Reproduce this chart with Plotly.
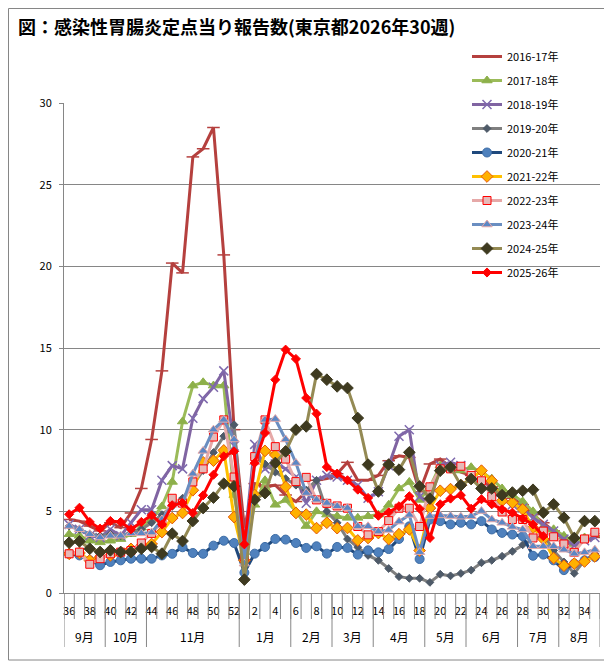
import plotly.graph_objects as go

# x categories (epi weeks, Sept -> Aug) and month groups under them
weeks = ['36', '37', '38', '39', '40', '41', '42', '43', '44', '45', '46', '47', '48', '49',
         '50', '51', '52', '1', '2', '3', '4', '5', '6', '7', '8', '9', '10', '11', '12',
         '13', '14', '15', '16', '17', '18', '19', '20', '21', '22', '23', '24', '25', '26',
         '27', '28', '29', '30', '31', '32', '33', '34', '35']
months = ['9月', '10月', '11月', '1月', '2月', '3月', '4月', '5月', '6月', '7月', '8月']
month_weeks = [4, 4, 9, 5, 4, 4, 5, 4, 5, 4, 4]

s2016_17 = [4.5, 4.4, 4.1, 3.8, 4.3, 4.0, 4.9, 6.4, 9.4, 13.6, 20.2, 19.6, 26.7, 27.2, 28.5, 20.7, 10.0,
            4.0, 6.7, 6.5, 6.6, 6.0, 5.6, 6.2, 6.9, 7.0, 7.3, 8.0, 6.9, 6.9, 7.2, 8.1, 8.4, 8.3, 6.2,
            7.9, 8.2, 7.7, 7.4, 7.2, 6.8, 6.5, 6.2, 5.8, 5.4, 4.8, 4.3, 3.8, 3.3, 3.0, 3.2, 3.4]
s2017_18 = [3.6, 3.5, 3.2, 3.1, 3.2, 3.3, 3.6, 4.0, 4.5, 5.3, 6.8, 10.5, 12.7, 12.9, 12.7, 12.7, 6.0,
            2.5, 5.4, 6.9, 5.4, 5.7, 5.0, 4.1, 5.0, 4.8, 4.7, 4.6, 4.6, 4.7, 4.8, 5.4, 6.4, 6.8, 5.7,
            6.5, 7.8, 7.8, 7.5, 7.7, 7.4, 7.0, 6.4, 6.0, 5.6, 5.0, 4.0, 3.9, 3.5, 3.0, 3.4, 3.6]
s2018_19 = [4.2, 3.9, 3.5, 3.4, 3.9, 3.5, 4.3, 5.1, 5.1, 6.9, 7.8, 7.6, 10.7, 11.9, 12.6, 13.6, 9.0,
            3.0, 9.1, 7.6, 7.9, 7.6, 7.1, 5.5, 6.9, 7.2, 7.1, 6.9, 6.6, 5.8, 6.2, 7.8, 9.6, 10.0, 5.9,
            5.5, 7.8, 8.0, 7.8, 7.2, 6.8, 6.2, 5.8, 5.4, 5.2, 4.6, 4.2, 3.8, 3.3, 2.9, 3.2, 3.4]
s2019_20 = [4.1, 3.9, 3.6, 3.5, 3.6, 3.5, 3.7, 3.9, 4.3, 4.8, 5.3, 5.8, 6.6, 7.5, 8.6, 9.6, 10.3,
            2.5, 8.3, 7.9, 7.4, 7.0, 6.6, 6.3, 6.9, 5.0, 4.3, 3.3, 2.8, 2.3, 2.0, 1.5, 1.0, 0.9, 0.9,
            0.65, 1.15, 1.05, 1.2, 1.4, 1.85, 2.0, 2.25, 2.55, 2.95, 3.3, 3.6, 2.6, 1.9, 1.2, 2.0, 2.4]
s2020_21 = [2.4, 2.3, 2.0, 1.7, 1.9, 2.0, 2.1, 2.1, 2.1, 2.3, 2.4, 2.8, 2.45, 2.4, 2.9, 3.2, 3.06,
            1.25, 2.41, 2.82, 3.31, 3.27, 3.06, 2.76, 2.86, 2.41, 2.82, 2.76, 2.35, 2.61, 2.49, 2.69,
            3.31, 4.08, 2.08,
            4.5, 4.4, 4.2, 4.3, 4.2, 4.4, 3.89, 3.68, 3.58, 3.48, 2.28, 2.35, 2.0, 1.4, 1.8, 2.0, 2.2]
s2021_22 = [2.4, 2.45, 2.0, 2.2, 2.3, 2.5, 2.7, 2.9, 3.0, 3.73, 4.59, 4.9, 6.29, 8.0, 8.1, 8.73, 4.65,
            2.0, 6.0, 8.7, 8.45, 6.5, 4.9, 4.8, 3.97, 4.3, 3.97, 3.98, 3.22, 3.37, 3.67, 3.3, 3.6, 3.9,
            2.6,
            5.2, 6.26, 6.36, 6.6, 7.0, 7.49, 6.87, 5.64, 5.53, 5.12, 4.0, 3.3, 2.14, 1.67, 1.8, 1.93, 2.24]
s2022_23 = [2.4, 2.5, 1.76, 2.1, 2.4, 2.5, 2.6, 3.06, 3.65, 4.3, 5.8, 5.5, 6.8, 7.6, 9.55, 10.6, 7.1,
            2.2, 8.35, 10.6, 8.96, 8.2, 6.82, 7.08, 5.7, 5.49, 5.33, 5.19, 4.07, 3.56, 3.76, 4.43, 5.19,
            5.19, 4.07,
            6.5, 7.6, 7.6, 7.76, 7.2, 6.87, 5.9, 4.96, 4.5, 4.5, 3.37, 3.79, 3.44, 3.0, 2.49, 3.31, 3.72]
s2023_24 = [4.1, 3.9, 3.6, 3.4, 3.5, 3.5, 3.65, 3.65, 3.7, 4.5, 5.4, 5.5, 7.3, 8.7, 10.0, 10.6, 9.4,
            1.8, 8.0, 10.6, 10.65, 9.4, 7.96, 6.12, 5.71, 5.51, 5.31, 5.2, 4.08, 4.08, 3.76, 3.86, 4.37,
            4.78, 2.5,
            4.71, 4.75, 4.71, 4.67, 4.7, 5.02, 4.5, 4.3, 4.05, 3.89, 2.86, 2.86, 2.86, 2.65, 2.4, 2.49, 2.65]
s2024_25 = [3.08, 3.16, 2.71, 2.51, 2.61, 2.51, 2.51, 2.71, 2.82, 2.41, 3.63, 3.18, 4.41, 5.2, 5.84, 6.69,
            6.53,
            0.82, 5.71, 6.12, 7.96, 8.67, 10.0, 10.2, 13.4, 13.06, 12.65, 12.55, 10.71, 7.86, 6.22, 7.86,
            7.55, 8.61, 6.53,
            5.78, 7.49, 7.7, 6.6, 6.98, 6.4, 6.4, 5.99, 6.15, 6.26, 6.32, 4.92, 5.43, 4.61, 3.37, 4.4, 4.4]
s2025_26 = [4.82, 5.22, 4.35, 3.94, 4.41, 4.35, 3.90, 4.35, 4.76, 4.2, 5.37, 5.51, 4.9, 5.98, 7.24, 8.37,
            8.67,
            2.98, 7.96, 9.8, 13.06, 14.9, 14.33, 11.94, 10.98, 7.71, 7.31, 6.9, 6.33, 5.82, 4.73, 4.94,
            5.31, 5.92, 5.16,
            3.37, 5.43, 5.78, 5.99, 5.16, 5.74, 5.43, 5.12, 4.92, 4.55, 4.2, 3.48]

# name, values, line colour, marker symbol, marker size, marker fill, marker outline
seasons = [
    ('2016-17年', s2016_17, '#B5403E', 'line-ew', 9, '#B5403E', '#B5403E'),
    ('2017-18年', s2017_18, '#9BBB59', 'triangle-up', 9, '#8DB04A', '#8DB04A'),
    ('2018-19年', s2018_19, '#8064A2', 'x-thin', 9, '#7F6AAE', '#7F6AAE'),
    ('2019-20年', s2019_20, '#7F7F7F', 'diamond', 6, '#4E5A68', '#4E5A68'),
    ('2020-21年', s2020_21, '#1F497D', 'circle', 9, '#4F81BD', '#3D6DA6'),
    ('2021-22年', s2021_22, '#FFC000', 'diamond', 9, '#FFB000', '#E4570A'),
    ('2022-23年', s2022_23, '#E6A9A8', 'square', 8, '#E6B9B8', '#FF0000'),
    ('2023-24年', s2023_24, '#6A8EC1', 'triangle-up', 9, '#5B87C5', '#E6A9A8'),
    ('2024-25年', s2024_25, '#948A54', 'diamond', 9, '#3E3A20', '#3E3A20'),
    ('2025-26年', s2025_26, '#FF0000', 'diamond', 7, '#FF0000', '#FF0000'),
]

# the page puts the figure 8px in from the window corner, so the figure is 8px smaller
W, H = 604, 654
L, R, T, B = 56, 12, 95, 69
PH = H - T - B
PW = W - L - R
grey = '#868686'
font = 'Noto Sans CJK JP, Noto Sans, sans-serif'

idx = list(range(len(weeks)))

fig = go.Figure()
for name, vals, lc, sym, ms, mfill, mline in seasons:
    fig.add_trace(go.Scatter(
        x=idx[:len(vals)], y=vals, name=name, mode='lines+markers',
        legendgroup=name,
        line=dict(color=lc, width=3),
        marker=dict(symbol=sym, size=ms, color=mfill,
                    line=dict(color=mline, width=1.5 if sym in ('line-ew', 'x-thin') else 1)),
    ))

# tick marks between every week, longer dividers between months
shapes = []
for k in range(len(weeks) + 1):
    shapes.append(dict(type='line', xref='x', yref='paper', x0=k - 0.5, x1=k - 0.5,
                       y0=0, y1=-26 / PH, line=dict(color=grey, width=1)))
annotations = []
pos = 0
for m, n in zip(months, month_weeks):
    shapes.append(dict(type='line', xref='x', yref='paper', x0=pos - 0.5, x1=pos - 0.5,
                       y0=0, y1=-54 / PH, line=dict(color=grey, width=1)))
    annotations.append(dict(x=pos + n / 2 - 0.5, y=-43 / PH, xref='x', yref='paper',
                            text=m, showarrow=False, font=dict(size=12, color='black', family=font),
                            yanchor='middle'))
    pos += n
shapes.append(dict(type='line', xref='x', yref='paper', x0=pos - 0.5, x1=pos - 0.5,
                   y0=0, y1=-54 / PH, line=dict(color=grey, width=1)))

# chart-area border
shapes.append(dict(type='rect', xref='paper', yref='paper',
                   x0=(0.5 - L) / PW, x1=(602 - L) / PW,
                   y0=(H - B - 652) / PH, y1=(H - B - 0.5) / PH,
                   line=dict(color=grey, width=1)))

fig.update_layout(
    width=W, height=H,
    margin=dict(l=L, r=R, t=T, b=B),
    paper_bgcolor='white', plot_bgcolor='white',
    font=dict(family=font, size=11, color='black'),
    title=dict(text='<b>図：感染性胃腸炎定点当り報告数(東京都2026年30週)</b>',
               x=10 / W, y=1 - 20 / H, xanchor='left', yanchor='middle',
               font=dict(size=18, color='black', family=font)),
    xaxis=dict(range=[-0.5, len(weeks) - 0.5], tickmode='array',
               tickvals=idx[::2], ticktext=weeks[::2], showgrid=False, zeroline=False,
               showline=True, linecolor=grey, ticks='', ticklabelstandoff=8,
               tickfont=dict(size=11)),
    yaxis=dict(range=[0, 30], dtick=5, showgrid=True, gridcolor=grey, gridwidth=1,
               zeroline=False, showline=True, linecolor=grey, ticks='outside',
               ticklen=4, tickcolor=grey, tickfont=dict(size=11), ticklabelstandoff=5),
    legend=dict(x=(459 - L) / PW, y=(H - B - 34) / PH, xanchor='left', yanchor='top',
                bgcolor='rgba(0,0,0,0)', font=dict(size=11), tracegroupgap=5,
                itemwidth=30),
    shapes=shapes, annotations=annotations,
    showlegend=True,
)

fig.write_html('out.html')
